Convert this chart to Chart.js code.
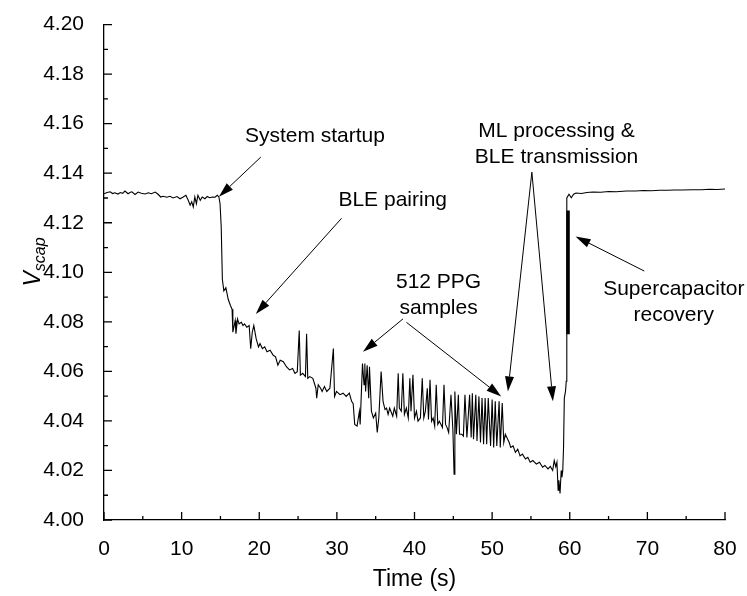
<!DOCTYPE html>
<html>
<head>
<meta charset="utf-8">
<script src="https://cdn.jsdelivr.net/npm/chart.js@4.4.0/dist/chart.umd.min.js"></script>
<style>
  html, body { margin: 0; padding: 0; background: #fff; }
  #wrap { width: 747px; height: 596px; position: relative; }
</style>
</head>
<body>
<div id="wrap"><canvas id="vscapChart"></canvas></div>
<script>
// ----- Data -----
const timeS = [
  0.0, 0.4, 0.8, 1.1, 1.4, 1.8, 2.1, 2.4, 2.7, 3.1, 3.4, 3.6, 4.0, 4.4, 4.8, 5.3, 5.7, 6.1, 6.6, 7.0,
  7.3, 7.6, 8.1, 8.5, 8.9, 9.4, 9.8, 10.2, 10.55, 10.85, 11.1, 11.3, 11.5, 11.7, 11.9, 12.1, 12.4, 12.65, 13.0, 13.3,
  13.6, 14.0, 14.3, 14.6, 14.8, 14.95, 15.1, 15.25, 15.44, 15.7, 16.0, 16.3, 16.5, 16.6, 16.9, 17.0, 17.2, 17.4, 17.7, 17.9,
  18.1, 18.4, 18.7, 18.9, 19.1, 19.3, 19.6, 19.9, 20.1, 20.4, 20.7, 21.0, 21.4, 21.8, 22.1, 22.4, 22.7, 23.1, 23.5, 23.9,
  24.3, 24.6, 24.9, 25.15, 25.3, 25.6, 25.95, 26.1, 26.25, 26.5, 26.9, 27.3, 27.4, 27.6, 27.9, 28.1, 28.4, 28.7, 29.1, 29.55,
  29.7, 29.95, 30.4, 30.8, 31.2, 31.6, 31.9, 32.1, 32.3, 32.6, 32.9, 33.0, 33.3, 33.5, 33.6, 33.7, 33.9, 34.1, 34.2, 34.45,
  34.7, 35.0, 35.2, 35.4, 35.7, 35.95, 36.2, 36.4, 36.6, 36.8, 37.2, 37.4, 37.7, 37.9, 38.05, 38.3, 38.5, 38.7, 38.95, 39.2,
  39.4, 39.55, 39.8, 40.0, 40.25, 40.45, 40.76, 41.0, 41.2, 41.4, 41.65, 41.8, 42.0, 42.2, 42.4, 42.6, 42.8, 43.0, 43.2, 43.6,
  43.8, 44.0, 44.2, 44.4, 44.7, 44.95, 45.1, 45.2, 45.4, 45.65, 45.8, 46.1, 46.3, 46.5, 46.75, 47.1, 47.3, 47.45, 47.6, 47.9,
  48.05, 48.3, 48.5, 48.7, 48.9, 49.1, 49.3, 49.5, 49.8, 50.0, 50.2, 50.4, 50.6, 50.9, 51.05, 51.3, 51.5, 51.7, 51.9, 52.2,
  52.4, 52.7, 53.0, 53.3, 53.6, 53.9, 54.3, 54.6, 54.9, 55.25, 55.7, 56.1, 56.5, 56.8, 57.2, 57.5, 57.8, 58.0, 58.2, 58.35,
  58.5, 58.6, 58.75, 58.9, 59.0, 59.1, 59.2, 59.3, 59.45, 59.55, 59.62, 59.9, 60.2, 60.5, 60.8, 61.5, 62.2, 63.0, 64.0, 65.0,
  66.0, 67.3, 68.5, 69.5, 70.5, 71.6, 72.5, 73.5, 74.5, 75.8, 77.0, 78.0, 79.0, 80.0
];
const vscap = [
  4.1317, 4.1322, 4.1325, 4.1318, 4.1321, 4.1316, 4.1322, 4.1319, 4.1328, 4.1317, 4.1323, 4.1325, 4.1314, 4.1324, 4.1319, 4.1316, 4.1321, 4.1317, 4.1324, 4.1314,
  4.1304, 4.1307, 4.1303, 4.1307, 4.1300, 4.1306, 4.1297, 4.1304, 4.1311, 4.1291, 4.1271, 4.1285, 4.1264, 4.1304, 4.1277, 4.1311, 4.1291, 4.1304, 4.1297, 4.1306,
  4.1301, 4.1304, 4.1303, 4.1311, 4.1304, 4.1277, 4.1184, 4.0971, 4.0925, 4.0938, 4.0891, 4.0865, 4.0851, 4.0758, 4.0805, 4.0752, 4.0812, 4.0792, 4.0798, 4.0785,
  4.0792, 4.0778, 4.0785, 4.0692, 4.0758, 4.0785, 4.0732, 4.0699, 4.0712, 4.0692, 4.0699, 4.0679, 4.0685, 4.0665, 4.0659, 4.0625, 4.0645, 4.0639, 4.0619, 4.0606,
  4.0612, 4.0592, 4.0599, 4.0765, 4.0585, 4.0592, 4.0579, 4.0752, 4.0572, 4.0579, 4.0572, 4.0532, 4.0492, 4.0546, 4.0532, 4.0519, 4.0539, 4.0519, 4.0532, 4.0692,
  4.0499, 4.0519, 4.0506, 4.0512, 4.0499, 4.0512, 4.0479, 4.0470, 4.0386, 4.0379, 4.0439, 4.0386, 4.0632, 4.0546, 4.0632, 4.0519, 4.0625, 4.0492, 4.0619, 4.0439,
  4.0412, 4.0432, 4.0353, 4.0412, 4.0599, 4.0479, 4.0446, 4.0452, 4.0426, 4.0452, 4.0419, 4.0452, 4.0419, 4.0592, 4.0452, 4.0439, 4.0592, 4.0426, 4.0452, 4.0412,
  4.0572, 4.0439, 4.0586, 4.0412, 4.0439, 4.0399, 4.0412, 4.0572, 4.0412, 4.0439, 4.0532, 4.0406, 4.0566, 4.0399, 4.0412, 4.0379, 4.0546, 4.0386, 4.0399, 4.0373,
  4.0546, 4.0386, 4.0373, 4.0353, 4.0506, 4.0359, 4.0185, 4.0519, 4.0346, 4.0506, 4.0346, 4.0346, 4.0339, 4.0506, 4.0333, 4.0506, 4.0333, 4.0512, 4.0326, 4.0506,
  4.0319, 4.0499, 4.0313, 4.0492, 4.0306, 4.0492, 4.0306, 4.0492, 4.0299, 4.0486, 4.0293, 4.0479, 4.0299, 4.0479, 4.0293, 4.0472, 4.0313, 4.0346, 4.0333, 4.0313,
  4.0293, 4.0299, 4.0273, 4.0286, 4.0259, 4.0266, 4.0246, 4.0253, 4.0233, 4.0240, 4.0226, 4.0233, 4.0213, 4.0220, 4.0206, 4.0216, 4.0200, 4.0240, 4.0215, 4.0233,
  4.0120, 4.0160, 4.0107, 4.0200, 4.0173, 4.0200, 4.0293, 4.0492, 4.0519, 4.0560, 4.1300, 4.1315, 4.1301, 4.1315, 4.1320, 4.1318, 4.1322, 4.1324, 4.1323, 4.1326,
  4.1325, 4.1328, 4.1328, 4.1330, 4.1329, 4.1331, 4.1331, 4.1332, 4.1332, 4.1333, 4.1333, 4.1335, 4.1334, 4.1336
];
// fast ripple while the supercapacitor recovers (drawn as a thick bar)
const rippleTime = [59.78, 59.78];
const rippleV = [4.075, 4.125];

// axis ticks
const xTickValues = [0, 10, 20, 30, 40, 50, 60, 70, 80];
const yTickValues = [4.00, 4.02, 4.04, 4.06, 4.08, 4.10, 4.12, 4.14, 4.16, 4.18, 4.20];

// ----- Annotations (in data units) -----
const notes = [
  { lines: ["System startup"], t: 18.15, v: 4.1549, align: "left" },
  { lines: ["BLE pairing"], t: 30.2, v: 4.1293, align: "left" },
  { lines: ["512 PPG", "samples"], t: 43.1, v: 4.0962, align: "center" },
  { lines: ["ML processing &", "BLE transmission"], t: 58.3, v: 4.1569, align: "center" },
  { lines: ["Supercapacitor", "recovery"], t: 73.4, v: 4.0930, align: "center" }
];
const arrows = [
  { from: [20.2, 4.1465], to: [14.8, 4.1305] },
  { from: [30.6, 4.1218], to: [19.56, 4.0832] },
  { from: [38.52, 4.0812], to: [33.37, 4.0679] },
  { from: [38.96, 4.0798], to: [51.17, 4.0499] },
  { from: [55.12, 4.1404], to: [52.03, 4.0519] },
  { from: [55.12, 4.1404], to: [57.83, 4.0479] },
  { from: [69.6, 4.1005], to: [60.75, 4.1145] }
];

const FONT = "'Liberation Sans', Arial, sans-serif";

// ----- Inward tick marks + minor ticks -----
const inwardTicks = {
  id: "inwardTicks",
  afterDraw(chart) {
    const { ctx, chartArea: a, scales: { x, y } } = chart;
    ctx.save();
    ctx.strokeStyle = "#000";
    ctx.lineWidth = 1.3;
    ctx.beginPath();
    x.ticks.forEach((tk, i) => {
      const px = x.getPixelForValue(tk.value);
      ctx.moveTo(px, a.bottom);
      ctx.lineTo(px, a.bottom - 8);
      if (i < x.ticks.length - 1) {
        const mx = x.getPixelForValue((tk.value + x.ticks[i + 1].value) / 2);
        ctx.moveTo(mx, a.bottom);
        ctx.lineTo(mx, a.bottom - 4);
      }
    });
    y.ticks.forEach((tk, i) => {
      const py = y.getPixelForValue(tk.value);
      ctx.moveTo(a.left, py);
      ctx.lineTo(a.left + 8, py);
      if (i < y.ticks.length - 1) {
        const my = y.getPixelForValue((tk.value + y.ticks[i + 1].value) / 2);
        ctx.moveTo(a.left, my);
        ctx.lineTo(a.left + 4, my);
      }
    });
    ctx.stroke();

    // y-axis title: V with subscript "scap"
    ctx.translate(40, 262);
    ctx.rotate(-Math.PI / 2);
    ctx.fillStyle = "#000";
    ctx.textBaseline = "alphabetic";
    ctx.font = "italic 23px " + FONT;
    const wV = ctx.measureText("V").width;
    ctx.font = "italic 16px " + FONT;
    const wS = ctx.measureText("scap").width;
    const x0 = -(wV + wS) / 2;
    ctx.font = "italic 23px " + FONT;
    ctx.fillText("V", x0, 0);
    ctx.font = "italic 16px " + FONT;
    ctx.fillText("scap", x0 + wV, 5);
    ctx.restore();
  }
};

// ----- Text labels and arrows -----
const annotate = {
  id: "annotate",
  afterDatasetsDraw(chart) {
    const { ctx, scales: { x, y } } = chart;
    ctx.save();
    ctx.fillStyle = "#000";
    ctx.strokeStyle = "#000";
    ctx.font = "21px " + FONT;
    ctx.textBaseline = "middle";
    notes.forEach(n => {
      ctx.textAlign = n.align;
      n.lines.forEach((line, i) => {
        ctx.fillText(line, x.getPixelForValue(n.t), y.getPixelForValue(n.v) + i * 26);
      });
    });

    ctx.lineWidth = 1;
    arrows.forEach(ar => {
      const x1 = x.getPixelForValue(ar.from[0]), y1 = y.getPixelForValue(ar.from[1]);
      const x2 = x.getPixelForValue(ar.to[0]), y2 = y.getPixelForValue(ar.to[1]);
      const ang = Math.atan2(y2 - y1, x2 - x1);
      const len = 15, half = 4.5;
      const bx = x2 - len * Math.cos(ang), by = y2 - len * Math.sin(ang);
      ctx.beginPath();
      ctx.moveTo(x1, y1);
      ctx.lineTo(bx, by);
      ctx.stroke();
      ctx.beginPath();
      ctx.moveTo(x2, y2);
      ctx.lineTo(bx + half * Math.sin(ang), by - half * Math.cos(ang));
      ctx.lineTo(bx - half * Math.sin(ang), by + half * Math.cos(ang));
      ctx.closePath();
      ctx.fill();
    });
    ctx.restore();
  }
};

// ----- Chart -----
document.addEventListener("DOMContentLoaded", () => {
  const ctx = document.getElementById("vscapChart").getContext("2d");
  new Chart(ctx, {
    type: "line",
    data: {
      datasets: [
        {
          data: timeS.map((t, i) => ({ x: t, y: vscap[i] })),
          borderColor: "#000",
          borderWidth: 1.1,
          pointRadius: 0,
          tension: 0,
          fill: false
        },
        {
          data: rippleTime.map((t, i) => ({ x: t, y: rippleV[i] })),
          borderColor: "#000",
          borderWidth: 3.5,
          pointRadius: 0,
          fill: false
        }
      ]
    },
    options: {
      responsive: true,
      maintainAspectRatio: false,
      animation: false,
      layout: { padding: { left: 0, right: 22, top: 19, bottom: 0 } },
      plugins: {
        legend: { display: false },
        tooltip: { enabled: false }
      },
      scales: {
        x: {
          type: "linear",
          min: 0,
          max: 80,
          afterBuildTicks: (scale) => { scale.ticks = xTickValues.map(v => ({ value: v })); },
          afterFit: (scale) => { scale.height = 76; },
          grid: { display: false },
          border: { display: true, color: "#000", width: 1.3 },
          ticks: {
            color: "#000",
            padding: 9,
            maxRotation: 0,
            font: { family: FONT, size: 21 }
          },
          title: {
            display: true,
            text: "Time (s)",
            color: "#000",
            font: { family: FONT, size: 23 },
            padding: { top: 0, bottom: 3 }
          }
        },
        y: {
          min: 4.0,
          max: 4.2,
          afterBuildTicks: (scale) => { scale.ticks = yTickValues.map(v => ({ value: v })); },
          afterFit: (scale) => { scale.width = 104; },
          grid: { display: false },
          border: { display: true, color: "#000", width: 1.3 },
          ticks: {
            color: "#000",
            padding: 12,
            font: { family: FONT, size: 21 },
            callback: (v) => Number(v).toFixed(2)
          }
        }
      }
    },
    plugins: [inwardTicks, annotate]
  });
});
</script>
</body>
</html>
